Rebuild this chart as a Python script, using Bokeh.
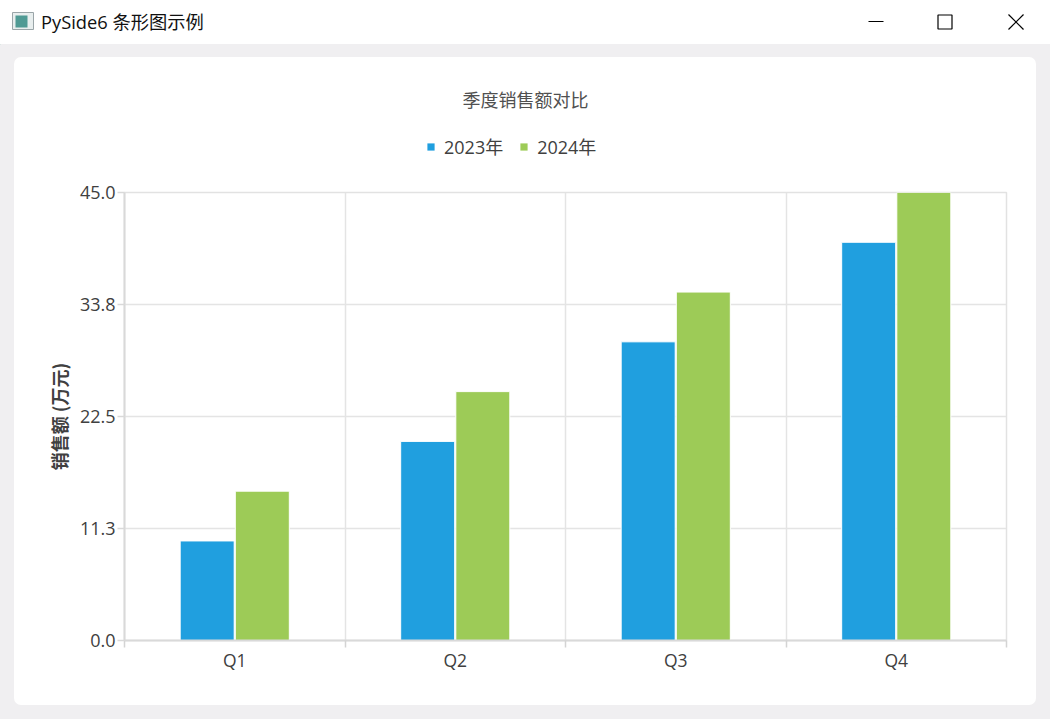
from bokeh.plotting import figure
from bokeh.layouts import column
from bokeh.embed import file_html
from bokeh.resources import INLINE
from bokeh.models import (ColumnDataSource, Range1d, FixedTicker, Legend, LegendItem, InlineStyleSheet)
from bokeh.core.properties import value

categories = ["Q1", "Q2", "Q3", "Q4"]
sales_2023 = [10, 20, 30, 40]
sales_2024 = [15, 25, 35, 45]
series_names = ["2023年", "2024年"]
series_colors = ["#209fdf", "#9dcb57"]
y_ticks = [0, 11.25, 22.5, 33.75, 45]
y_tick_labels = ["0.0", "11.3", "22.5", "33.8", "45.0"]
window_title = "PySide6 条形图示例"
chart_title = "季度销售额对比"
y_title = "销售额 (万元)"

FONT = "'Open Sans', 'Noto Sans CJK SC', sans-serif"
CJK = "'Noto Sans CJK SC', sans-serif"
BAR = 0.245
TEXT = "#404040"
LINE = "#d9d9d9"
GRID = "#e4e4e4"
PANEL = "#f0eff1"


def card_css(top, height, radius):
    return InlineStyleSheet(css=f"""
:host {{ background: {PANEL}; }}
:host::before {{ content: ''; position: absolute; left: 14px; top: {top}px; width: 1022px; height: {height}px;
                background: #ffffff; border-radius: {radius}; }}
""")


# ---- window title bar
head = figure(width=1050, height=44, x_range=(0, 1050), y_range=(44, 0), output_backend="svg",
              toolbar_location=None, min_border=0, x_axis_location=None, y_axis_location=None,
              outline_line_color=None, background_fill_color="#ffffff", border_fill_color="#ffffff",
              frame_align=False)
head.grid.visible = False
head.quad(left=[12], right=[33], top=[12], bottom=[29], fill_color="#e8eeee", line_color="#9aa5a8")
head.quad(left=[15], right=[27], top=[15], bottom=[27], fill_color="#4f9a94", line_color=None)
head.text(x=[40.5], y=[21], text=[window_title], text_font=value(FONT), text_font_size="18.3px",
          text_color="#111111", text_baseline="middle")
head.segment(x0=[868, 1008, 1023], y0=[21, 14, 14], x1=[883, 1023, 1008], y1=[21, 29, 29],
             line_color="#000000", line_width=1.2)
head.quad(left=[937.5], right=[951.5], top=[14.5], bottom=[28.5], fill_color=None, line_color="#000000",
          line_width=1.2)

# ---- band above the plot: chart title and legend
band = figure(width=1050, height=130, x_range=(0, 1050), y_range=(174, 44), output_backend="svg",
              toolbar_location=None, min_border=0, x_axis_location=None, y_axis_location=None,
              outline_line_color=None, background_fill_color=None, border_fill_color=None,
              frame_align=False)
band.grid.visible = False
band.stylesheets = [card_css(13, 117, "7px 7px 0 0")]
band.text(x=[525], y=[98.5], text=[chart_title], text_font=value(CJK), text_font_size="18px",
          text_color="#505050", text_align="center", text_baseline="middle")
# legend keys only: one point each, outside the visible range of this band
k1 = band.vbar(x=[-10], top=[-10], width=1, fill_color=series_colors[0], line_color=None)
k2 = band.vbar(x=[-10], top=[-10], width=1, fill_color=series_colors[1], line_color=None)
legend = Legend(items=[LegendItem(label=series_names[0], renderers=[k1]),
                       LegendItem(label=series_names[1], renderers=[k2])],
                orientation="horizontal", location=(426, 15), background_fill_alpha=0, border_line_color=None,
                label_text_font=FONT, label_text_font_size="18px", label_text_color=TEXT,
                glyph_width=9, glyph_height=9, spacing=16, label_standoff=9, margin=0, padding=0)
band.add_layout(legend, "center")

# ---- chart
centers = [i + 0.5 for i in range(len(categories))]
edges = list(range(len(categories) + 1))
src = ColumnDataSource(dict(x1=[c - 0.125 for c in centers], x2=[c + 0.125 for c in centers],
                            a=sales_2023, b=sales_2024))

p = figure(width=1050, height=545, x_range=Range1d(0, len(categories)), y_range=Range1d(0, 45),
           output_backend="svg", toolbar_location=None, frame_align=False,
           min_border_left=124, min_border_right=44, min_border_top=18, min_border_bottom=79,
           background_fill_color=None, border_fill_color=None, outline_line_color="#e2e2e2",
           outline_line_width=1.5)
p.stylesheets = [card_css(0, 531, "0 0 7px 7px")]

x = p.xaxis[0]
x.ticker = FixedTicker(ticks=centers, minor_ticks=edges)
x.major_label_overrides = dict(zip(centers, categories))
x.major_tick_line_color = None
x.major_tick_in = 0
x.major_tick_out = 0
x.minor_tick_in = 0
x.minor_tick_out = 7
x.minor_tick_line_color = "#d4d4d4"
x.minor_tick_line_width = 1.5
x.axis_line_color = LINE
x.axis_line_width = 2
x.major_label_text_font_size = "17.5px"
x.major_label_text_color = TEXT
x.major_label_text_font = FONT
x.major_label_standoff = 0
p.xgrid.grid_line_color = None
p.xgrid.minor_grid_line_color = GRID
p.xgrid.minor_grid_line_width = 1.5

y = p.yaxis[0]
y.ticker = FixedTicker(ticks=y_ticks)
y.major_label_overrides = dict(zip(y_ticks, y_tick_labels))
y.major_label_text_font_size = "18px"
y.major_label_text_color = TEXT
y.major_label_text_font = FONT
y.major_label_standoff = 2
y.major_tick_in = 0
y.major_tick_out = 7
y.minor_tick_line_color = None
y.major_tick_line_color = LINE
y.major_tick_line_width = 1.5
y.axis_line_color = LINE
y.axis_line_width = 2
y.axis_label = y_title
y.axis_label_text_font = CJK
y.axis_label_text_font_size = "18px"
y.axis_label_text_font_style = "bold"
y.axis_label_text_color = TEXT
y.axis_label_standoff = 5
p.ygrid.grid_line_color = GRID
p.ygrid.grid_line_width = 1.5

p.vbar(x="x1", top="a", width=BAR, bottom=0, source=src,
       fill_color=series_colors[0], line_color="#ffffff", line_width=1)
p.vbar(x="x2", top="b", width=BAR, bottom=0, source=src,
       fill_color=series_colors[1], line_color="#ffffff", line_width=1)

open("out.html", "w").write(file_html(column(head, band, p, spacing=0), INLINE))
